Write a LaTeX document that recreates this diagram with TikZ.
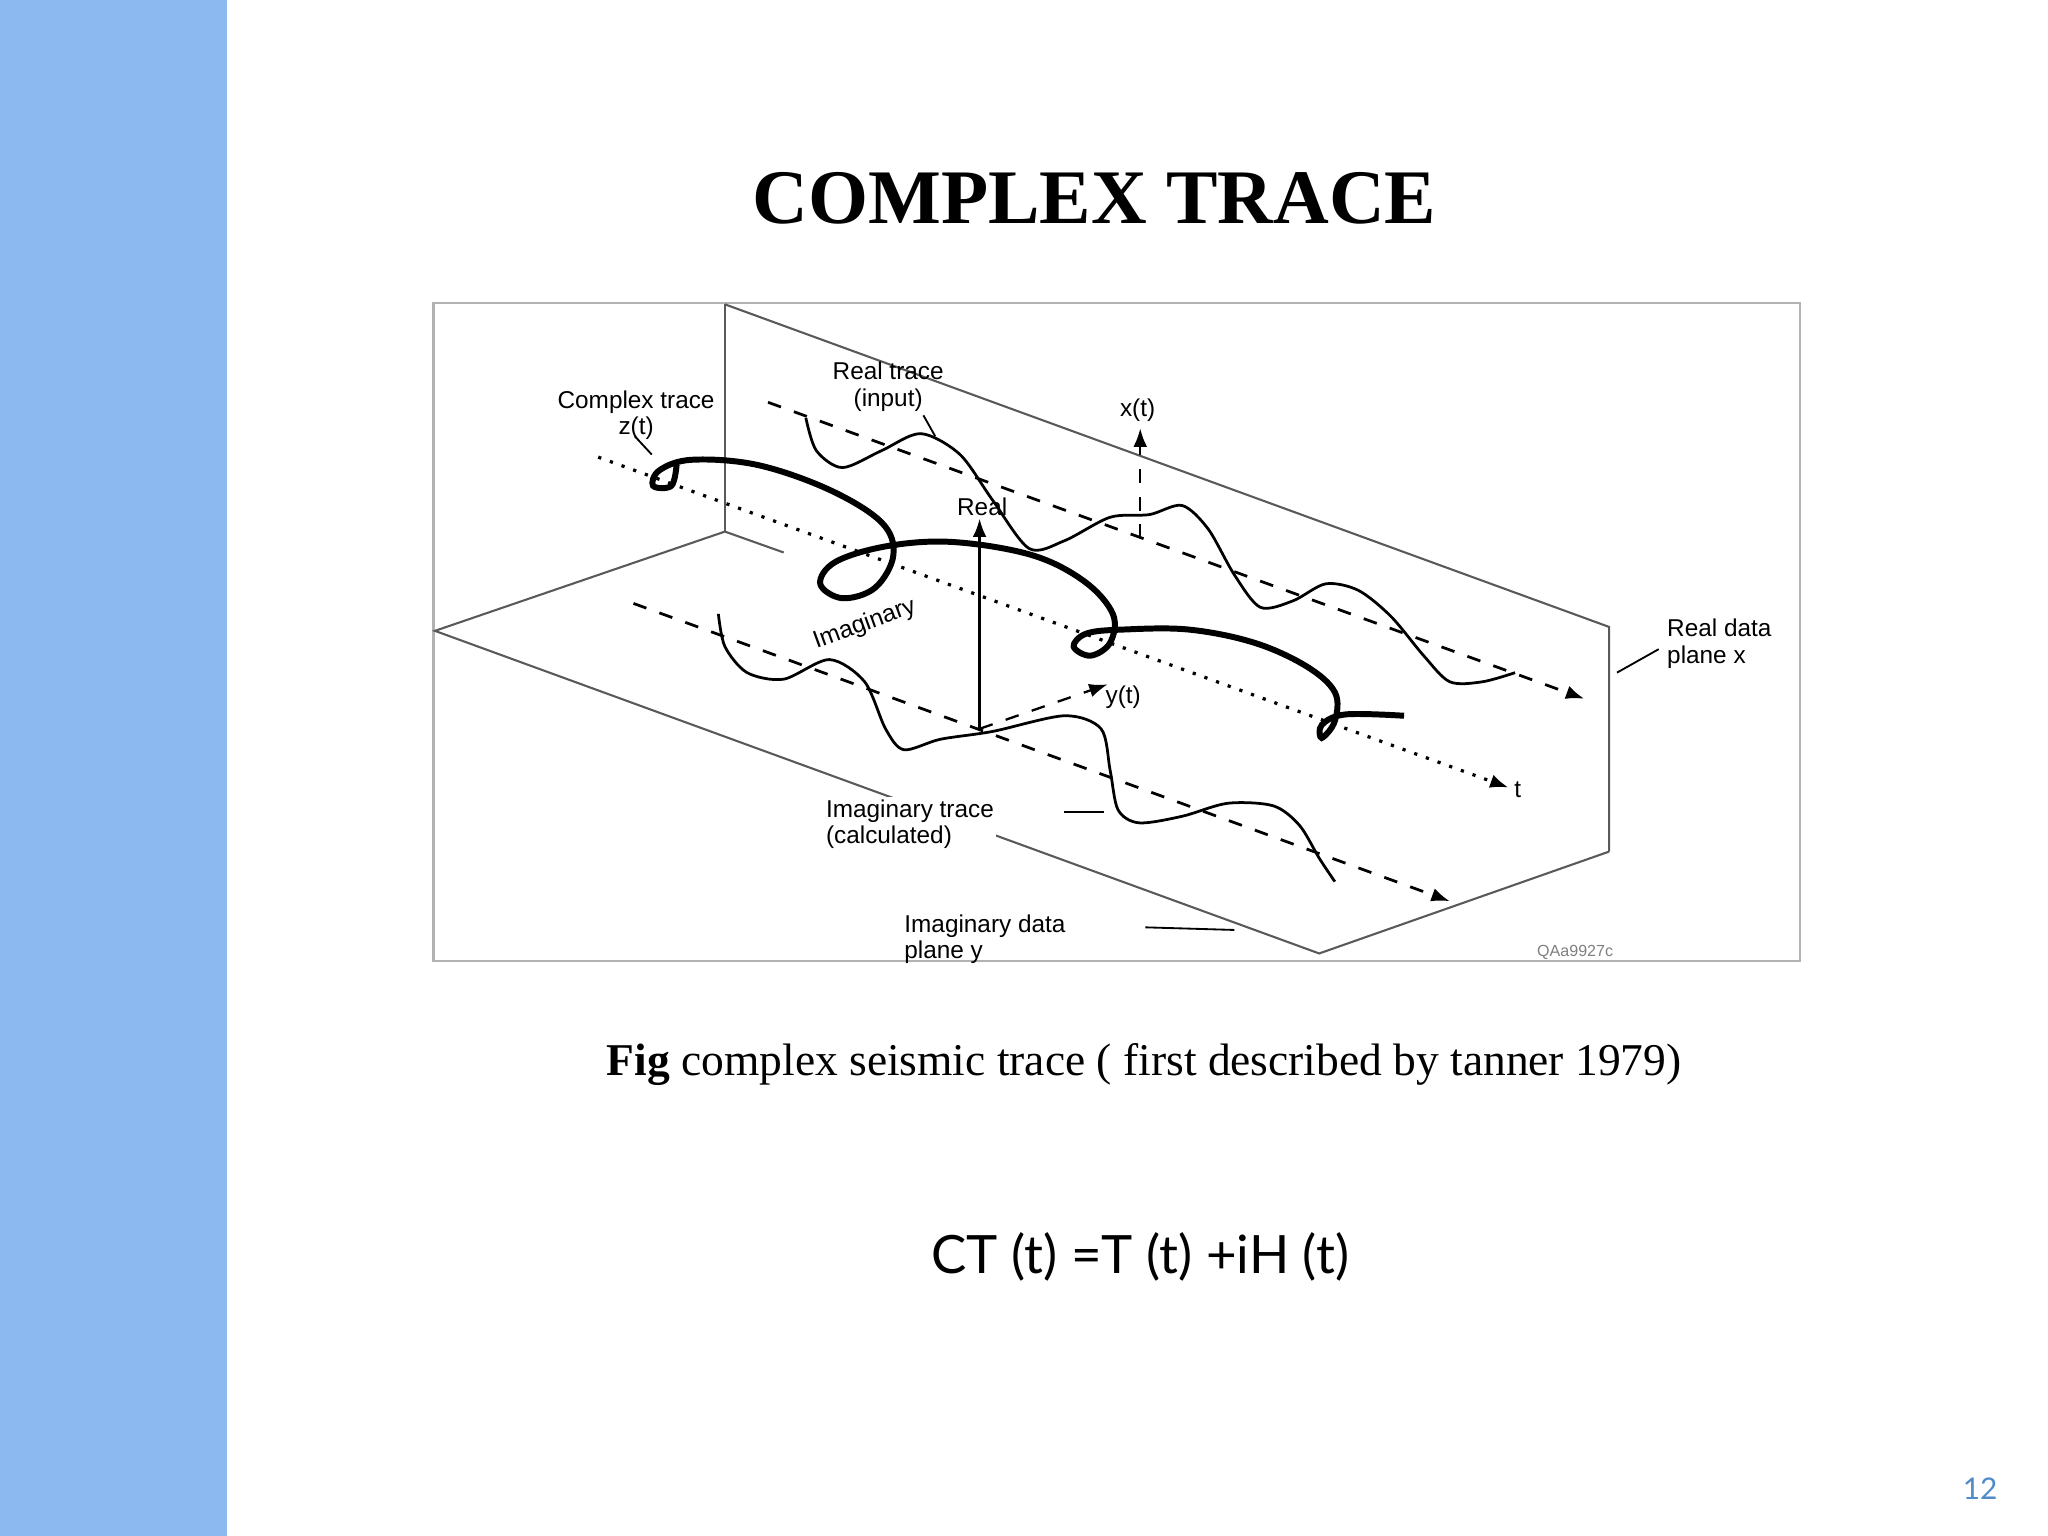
\documentclass[tikz,border=0pt]{standalone}
\usepackage{fontspec}
\setmainfont{Liberation Serif}
\setsansfont{Liberation Sans}
\newfontfamily\latofont{Lato}
\usetikzlibrary{arrows.meta}
\definecolor{sidebar}{RGB}{140,185,240}
\definecolor{pgblue}{RGB}{80,140,200}
\begin{document}
\begin{tikzpicture}[x=0.01cm,y=-0.01cm,
  lab/.style={font=\sffamily\fontsize{5.3}{5.8}\selectfont,align=left,inner sep=0.5pt},
  edge/.style={line width=0.45pt,gray!70!black},
  arr/.style={-{Latex[length=4pt,width=3pt]}},
  trace/.style={line width=0.6pt},
  helix/.style={line width=1.3pt}]
\useasboundingbox (0,0) rectangle (1568,1176);
\fill[white] (0,0) rectangle (1568,1176);
\fill[sidebar] (0,0) rectangle (174,1176);
\node[font=\bfseries\fontsize{16.8}{18}\selectfont] (title) at (838,152) {COMPLEX TRACE};
% frame
\draw[gray!60,line width=0.5pt] (332,232) rectangle (1378,736);
% planes
\draw[edge] (555,233) -- (1232,480) -- (1232,652);
\draw[edge] (555,233) -- (555,407);
\draw[edge] (555,407) -- (333,483) -- (1010,730) -- (1232,652);
\draw[edge] (555,407) -- (600,423);
% axes
\draw[dotted,line width=0.7pt,arr] (458,350) -- (1155,603);
\node[lab] (tl) at (1162,605) {t};
\draw[dashed,line width=0.6pt,arr] (588,308) -- (1213,535);
\draw[dashed,line width=0.6pt,arr] (485,462) -- (1110,690);
\coordinate (o) at (750,558);
\draw[line width=0.6pt,arr] (o) -- (750,397);
\node[lab] (real) at (752,388) {Real};
\draw[dashed,line width=0.5pt,arr] (873,412) -- (873,328);
\node[lab] (xt) at (871,314) {x(t)};
\draw[dashed,line width=0.5pt,arr] (o) -- (848,524);
\node[lab] (yt) at (860,534) {y(t)};
\node[lab,rotate=20] (imag) at (662,478) {Imaginary};
% real trace
\draw[trace] plot[smooth] coordinates {(617,320) (625,345) (645,358) (675,345) (705,332) (735,348) (760,383) (788,420) (815,414) (850,396) (880,394) (905,387) (925,405) (945,440) (965,465) (990,460) (1015,447) (1040,452) (1065,472) (1090,502) (1110,522) (1135,522) (1160,515)};
% imaginary trace
\draw[trace] plot[smooth] coordinates {(550,470) (555,495) (572,515) (600,520) (635,505) (662,522) (678,558) (692,574) (720,566) (760,560) (815,548) (843,558) (850,590) (856,620) (872,630) (905,625) (940,615) (975,617) (995,632) (1010,657) (1022,675)};
% complex trace helix
\draw[helix] plot[smooth,tension=0.6] coordinates {(518,356) (514,372) (500,372) (505,360) (530,352) (580,356) (635,375) (675,400) (684,425) (670,450) (645,458) (628,447) (640,430) (680,418) (730,415) (790,425) (830,445) (852,470) (850,492) (835,502) (822,495) (832,485) (860,482) (910,482) (960,492) (1000,510) (1022,530) (1022,552) (1012,565) (1012,555) (1030,547) (1075,548)};
% labels
\node[lab,align=center,fill=white] (ct) at (487,318) {Complex trace\\z(t)};
\draw[line width=0.4pt] (486,334) -- (499,348);
\node[lab,align=center] (rt) at (680,296) {Real trace\\(input)};
\draw[line width=0.4pt] (707,318) -- (716,334);
\node[lab,anchor=west] (rdp) at (1274,493) {Real data\\plane x};
\draw[line width=0.4pt] (1238,515) -- (1270,497);
\node[lab,anchor=west,fill=white] (it) at (630,631) {Imaginary trace\\(calculated)};
\draw[line width=0.4pt] (815,622) -- (845,622);
\node[lab,anchor=west] (idp) at (690,719) {Imaginary data\\plane y};
\draw[line width=0.4pt] (877,710) -- (945,712);
\node[font=\sffamily\fontsize{3.5}{4}\selectfont,gray] (qa) at (1206,729) {QAa9927c};
% caption
\node[font=\fontsize{9.9}{11}\selectfont] (cap) at (876,815) {\textbf{Fig} complex seismic trace ( first described by tanner 1979)};
\node[font=\latofont\fontsize{11.5}{12}\selectfont] (eq) at (873,962) {CT (t) =T (t) +iH (t)};
\node[font=\latofont\fontsize{6.5}{8}\selectfont,text=pgblue] (pg) at (1516,1140) {12};
\end{tikzpicture}
\end{document}
